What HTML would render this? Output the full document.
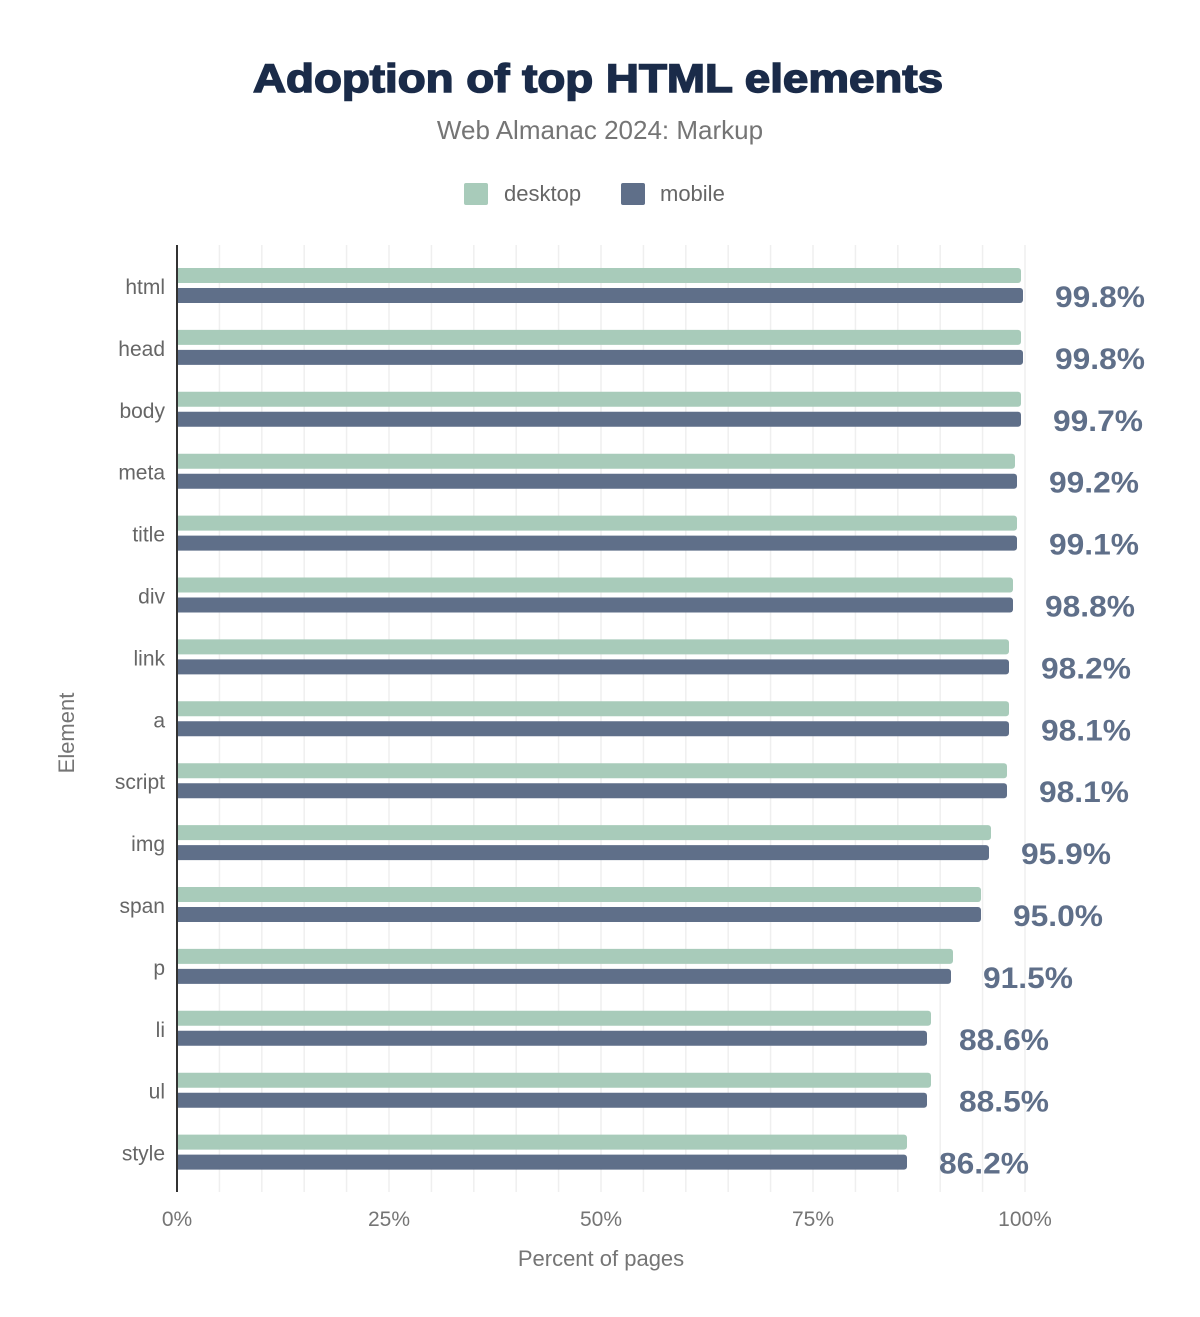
<!DOCTYPE html>
<html><head><meta charset="utf-8"><style>
body{margin:0;background:#fff;font-family:"Liberation Sans",Arial,sans-serif}
</style></head><body>
<svg width="1200" height="1312" xmlns="http://www.w3.org/2000/svg" font-family="Liberation Sans, Arial, sans-serif">
<rect width="1200" height="1312" fill="#fff"/>
<text x="253" y="92" textLength="690" lengthAdjust="spacingAndGlyphs" font-size="40" font-weight="bold" fill="#1a2b49" stroke="#1a2b49" stroke-width="1.5">Adoption of top HTML elements</text>
<text x="600" y="139" text-anchor="middle" font-size="26" fill="#757575">Web Almanac 2024: Markup</text>
<rect x="464" y="183" width="24" height="22" rx="2" fill="#a8cbba"/>
<text x="504" y="201" font-size="22" fill="#666">desktop</text>
<rect x="621" y="183" width="24" height="22" rx="2" fill="#5f6f89"/>
<text x="660" y="201" font-size="22" fill="#666">mobile</text>
<g id="grid" stroke="#efefef" stroke-width="1.5"></g>
<g id="bars"></g>
<line x1="177" y1="245" x2="177" y2="1192" stroke="#333" stroke-width="2"/>
<g font-size="21" fill="#757575" text-anchor="middle">
<text x="177" y="1226">0%</text><text x="389" y="1226">25%</text><text x="601" y="1226">50%</text><text x="813" y="1226">75%</text><text x="1025" y="1226">100%</text>
</g>
<text x="601" y="1266" text-anchor="middle" font-size="22" fill="#757575">Percent of pages</text>
<text transform="translate(74,733) rotate(-90)" text-anchor="middle" font-size="22" fill="#757575">Element</text>
</svg>
<script>
var ns="http://www.w3.org/2000/svg";
var g=document.getElementById('grid'),b=document.getElementById('bars');
for(var i=1;i<=20;i++){var x=177+i*42.4;var l=document.createElementNS(ns,'line');l.setAttribute('x1',x);l.setAttribute('x2',x);l.setAttribute('y1',245);l.setAttribute('y2',1192);g.appendChild(l);}
var d=[["html",1021,1023,"99.8%"],["head",1021,1023,"99.8%"],["body",1021,1021,"99.7%"],["meta",1015,1017,"99.2%"],["title",1017,1017,"99.1%"],["div",1013,1013,"98.8%"],["link",1009,1009,"98.2%"],["a",1009,1009,"98.1%"],["script",1007,1007,"98.1%"],["img",991,989,"95.9%"],["span",981,981,"95.0%"],["p",953,951,"91.5%"],["li",931,927,"88.6%"],["ul",931,927,"88.5%"],["style",907,907,"86.2%"]];
function el(t,a,p){var e=document.createElementNS(ns,t);for(var k in a)e.setAttribute(k,a[k]);(p||b).appendChild(e);return e;}
d.forEach(function(r,i){var y=268+i*61.9;
el('rect',{x:172,y:y,width:r[1]-172,height:15,rx:3,fill:'#a8cbba'});
el('rect',{x:172,y:y+20,width:r[2]-172,height:15,rx:3,fill:'#5f6f89'});
var t=el('text',{x:165,y:y+26,'text-anchor':'end','font-size':21,fill:'#666'});t.textContent=r[0];
var v=el('text',{x:r[2]+32,y:y+39,'font-size':30,'font-weight':'bold',fill:'#5f6f89',textLength:90,lengthAdjust:'spacingAndGlyphs'});v.textContent=r[3];});
el('rect',{x:170,y:245,width:6,height:947,fill:'#fff'});
</script>
</body></html>
